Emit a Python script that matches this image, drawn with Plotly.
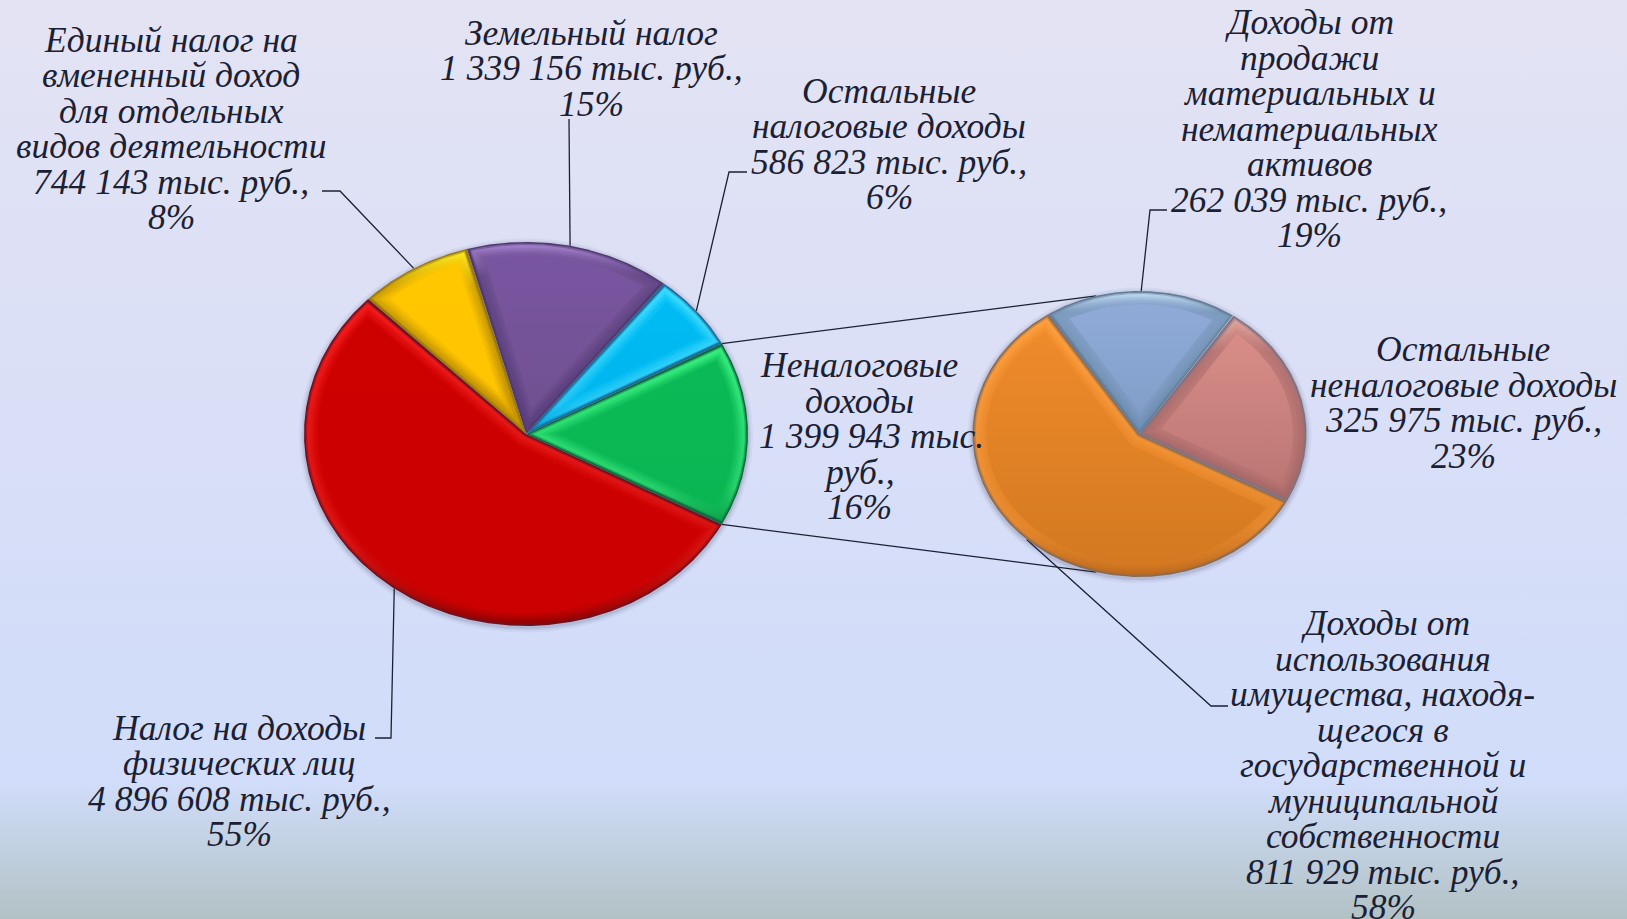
import numpy as np
import plotly.graph_objects as go

W, H = 1627, 919

# ---- data ----
main_names = ["Неналоговые доходы", "Остальные налоговые доходы", "Земельный налог",
              "Единый налог на вмененный доход", "Налог на доходы физических лиц"]
main_values = [1399943, 586823, 1339156, 744143, 4896608]
sub_names = ["Доходы от использования имущества", "Доходы от продажи активов", "Остальные неналоговые доходы"]
sub_values = [811929, 262039, 325975]

label_green = ["Неналоговые", "доходы", "1 399 943 тыс.", "руб.,", "16%"]
label_blue = ["Остальные", "налоговые доходы", "586 823 тыс. руб.,", "6%"]
label_purple = ["Земельный налог", "1 339 156 тыс. руб.,", "15%"]
label_yellow = ["Единый налог на", "вмененный доход", "для отдельных", "видов деятельности", "744 143 тыс. руб.,", "8%"]
label_red = ["Налог на доходы", "физических лиц", "4 896 608 тыс. руб.,", "55%"]
label_orange = ["Доходы от", "использования", "имущества, находя-", "щегося в", "государственной и",
                "муниципальной", "собственности", "811 929 тыс. руб.,", "58%"]
label_steel = ["Доходы от", "продажи", "материальных и", "нематериальных", "активов", "262 039 тыс. руб.,", "19%"]
label_pink = ["Остальные", "неналоговые доходы", "325 975 тыс. руб.,", "23%"]

# ---- layout and style ----
MAIN = dict(cx=526, cy=434, rx=222, ry=192)
SUB = dict(cx=1139.5, cy=434, rx=167, ry=143)
LH = 35.5
FONT_SIZE = 35.5
INK = "#1b2033"

# base top, base bottom, highlight top, highlight bottom, edge, falloff position, falloff amount
main_styles = [
    ("#0BBA56", "#0AB552", "#34EC7C", "#0A9C48", "#0C6A40", 0.8, 0.35),
    ("#00BDF5", "#00B4EC", "#38DCFF", "#009FDF", "#1A6A9A", 0.8, 0.35),
    ("#7A56A2", "#70508F", "#A682CE", "#5B3F7E", "#4F3A70", 0.18, 0.85),
    ("#FFC800", "#FFC400", "#FFF020", "#C89400", "#9A7A10", 0.2, 0.8),
    ("#CE0000", "#CC0000", "#F41A1A", "#960000", "#701020", 0.75, 0.3),
]
sub_styles = [
    ("#F08C2C", "#D27820", "#FF9E3C", "#C06A1C", "#8A6A50", 0.8, 0.4),
    ("#92ACDA", "#7F9CC6", "#C4E0F6", "#6F8FB2", "#607A98", 0.15, 0.85),
    ("#DC908A", "#B87472", "#E6AAA2", "#A86868", "#807080", 0.2, 0.8),
]


def rgb(c):
    return np.array([int(c[i:i + 2], 16) for i in (1, 3, 5)], float)


def mix(a, b, t):
    v = rgb(a) * (1 - t) + rgb(b) * t
    return "#%02x%02x%02x" % tuple(int(round(x)) for x in v)


def wedge(p, a0, a1, d=0.0):
    """Slice outline between angles a0 < a1 (degrees, counter-clockwise), inset by d pixels."""
    rx, ry = p["rx"], p["ry"]
    t0, t1 = np.radians(a0), np.radians(a1)
    u0 = np.array([rx * np.cos(t0), ry * np.sin(t0)])
    u1 = np.array([rx * np.cos(t1), ry * np.sin(t1)])
    u0 /= np.linalg.norm(u0)
    u1 /= np.linalg.norm(u1)
    n0 = np.array([-u0[1], u0[0]])
    n1 = np.array([u1[1], -u1[0]])
    apex = np.linalg.solve(np.array([n0, n1]), np.array([d, d]))
    reflex = u0[0] * u1[1] - u0[1] * u1[0] < 0
    th = np.radians(np.linspace(a0, a1, int((a1 - a0) * 3) + 2))
    qx = (rx - d) * np.cos(th)
    qy = (ry - d) * np.sin(th)
    s0 = qx * n0[0] + qy * n0[1] >= d
    s1 = qx * n1[0] + qy * n1[1] >= d
    keep = (s0 | s1) if reflex else (s0 & s1)
    xs = np.r_[apex[0], qx[keep], apex[0]] + p["cx"]
    ys = p["cy"] - np.r_[apex[1], qy[keep], apex[1]]
    return xs, ys


fig = go.Figure()


def poly(xs, ys, **kw):
    fig.add_trace(go.Scatter(x=xs, y=ys, mode="lines", fill="toself", line=dict(width=0),
                             hoverinfo="skip", showlegend=False, **kw))


def line(xs, ys, width=1.3):
    fig.add_trace(go.Scatter(x=xs, y=ys, mode="lines", line=dict(color=INK, width=width),
                             hoverinfo="skip", showlegend=False))


# background
poly([0, W, W, 0, 0], [0, 0, H, H, 0],
     fillgradient=dict(type="vertical", start=0, stop=H,
                       colorscale=[[0, "#E3E3F3"], [0.35, "#DCE0F6"], [0.7, "#D3DDF9"], [0.85, "#D1DDFA"],
                                   [0.93, "#C0CFDE"], [1, "#B2C1C4"]]))


def slice_angles(values, start, direction):
    total = sum(values)
    out = []
    a = start
    for v in values:
        b = a + direction * v / total * 360
        out.append((min(a, b), max(a, b)))
        a = b
    return out


main_share = main_values[0] / sum(main_values) * 360
main_angles = slice_angles(main_values, -main_share / 2, 1)
sub_angles = slice_angles(sub_values, -main_share / 2, -1)


def on_pie(p, a):
    return p["cx"] + p["rx"] * np.cos(np.radians(a)), p["cy"] - p["ry"] * np.sin(np.radians(a))


def mid(a):
    return (a[0] + a[1]) / 2


# connector lines between the pies
a_top, a_bot = main_angles[0][1], main_angles[0][0]
for a_main, a_sub in ((a_top, 105), (a_bot, 255)):
    x0, y0 = on_pie(MAIN, a_main)
    x1, y1 = on_pie(SUB, a_sub)
    line([x0, x1], [y0, y1])

# leader lines: slice, elbow, end of the shelf
leaders = [
    (MAIN, main_angles[1], (729, 172), (747, 172)),
    (MAIN, main_angles[2], (569, 119), None),
    (MAIN, main_angles[3], (340, 191), (322, 191)),
    (MAIN, main_angles[4], (391, 738), (375, 738)),
    (SUB, sub_angles[0], (1211, 706), (1228, 706)),
    (SUB, sub_angles[1], (1150, 210), (1167, 210)),
]
for p, a, elbow, end in leaders:
    x0, y0 = on_pie(p, mid(a))
    xs, ys = [x0, elbow[0]], [y0, elbow[1]]
    if end:
        xs.append(end[0])
        ys.append(end[1])
    line(xs, ys)


def draw_pie(p, angles, styles):
    # soft shadow
    th = np.radians(np.linspace(0, 360, 361))
    for grow, alpha in ((5, 0.05), (3, 0.07), (1.5, 0.1)):
        poly(p["cx"] + (p["rx"] + grow) * np.cos(th), p["cy"] + 1.5 + (p["ry"] + grow) * np.sin(th),
             fillcolor=f"rgba(50,55,90,{alpha})")
    for (a0, a1), (bt, bb, ht, hb, edge, k, m) in zip(angles, styles):
        _, ys = wedge(p, a0, a1)
        top, bottom = float(ys.min()), float(ys.max())
        layers = [(0, edge, edge, k, m),
                  (1.5, mix(edge, ht, 0.55), mix(edge, hb, 0.55), k, m),
                  (3, ht, hb, k, m),
                  (6, mix(ht, bt, 0.25), mix(hb, bb, 0.25), k, m),
                  (8.5, mix(ht, bt, 0.55), mix(hb, bb, 0.55), k, m),
                  (11, mix(ht, bt, 0.8), mix(hb, bb, 0.8), k, m),
                  (13.5, bt, bb, 0.5, 0.5)]
        for d, c_top, c_bot, kk, mm in layers:
            xs, ys = wedge(p, a0, a1, d)
            poly(xs, ys, fillgradient=dict(type="vertical", start=top, stop=bottom,
                                           colorscale=[[0, c_top], [kk, mix(c_top, c_bot, mm)], [1, c_bot]]))


draw_pie(MAIN, main_angles, main_styles)
draw_pie(SUB, sub_angles, sub_styles)

# text: one annotation per line to hold the original line spacing
blocks = [
    (label_yellow, [171] * 6, 39.5),
    (label_purple, [591] * 3, 32.5),
    (label_blue, [889] * 4, 90.5),
    (label_steel, [1309] * 7, 22),
    (label_pink, [1463] * 4, 349),
    (label_green, [859, 859, 871, 859, 859], 365),
    (label_red, [239] * 4, 727.5),
    (label_orange, [1385, 1383, 1382, 1383, 1383, 1383, 1383, 1382, 1383], 623),
]
annotations = []
for lines, centers, y0 in blocks:
    for i, (txt, xc) in enumerate(zip(lines, centers)):
        annotations.append(dict(x=xc, y=y0 + i * LH, xref="x", yref="y", text=txt, showarrow=False,
                                xanchor="center", yanchor="middle",
                                font=dict(family="Liberation Serif", size=FONT_SIZE, color=INK, style="italic")))

fig.update_layout(
    width=W, height=H, margin=dict(l=0, r=0, t=0, b=0), showlegend=False,
    paper_bgcolor="#DDE0F6", plot_bgcolor="#DDE0F6", annotations=annotations,
    xaxis=dict(range=[0, W], visible=False, fixedrange=True),
    yaxis=dict(range=[H, 0], visible=False, fixedrange=True),
)
fig.write_html("out.html", config={"displayModeBar": False}, default_width=W, default_height=H,
               post_script="document.body.style.margin='0';document.body.style.overflow='hidden';")
